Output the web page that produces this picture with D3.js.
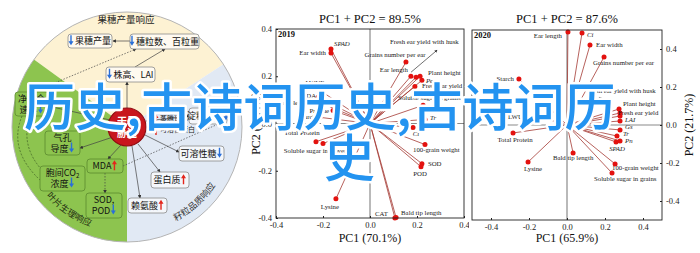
<!DOCTYPE html>
<html>
<head>
<meta charset="utf-8">
<script src="https://cdn.jsdelivr.net/npm/d3@7"></script>
<style>
html, body { margin: 0; padding: 0; background: #fff; }
svg { display: block; }
</style>
</head>
<body>
<svg id="chart" width="700" height="253"></svg>
<script>
// ---------- data ----------
const pcTicks = [-0.4, -0.2, 0.0, 0.2, 0.4];

const vars2019 = ["SPAD", "Ear width", "LWUE", "MDA", "Soluble protein", "Proline", "Starch",
  "Total Protein", "Soluble sugar in stover", "Lysine", "CAT", "Bald tip length", "SOD", "POD",
  "100-grain weight", "Ci", "Tr", "Soluble sugar in grains", "Fresh ear yield", "Pe",
  "Plant height", "Ear length", "Grains number per ear", "Fresh ear yield with husk"];
const pc1_2019 = [-0.166, -0.166, -0.213, -0.221, -0.204, -0.157, -0.213, -0.230, -0.200, -0.145,
  0.106, 0.111, 0.221, 0.217, 0.234, 0.183, 0.234, 0.226, 0.191, 0.221, 0.213, 0.174, 0.153, 0.196];
const pc2_2019 = [0.315, 0.298, 0.140, 0.111, 0.085, 0.055, 0.026, -0.077, -0.085, -0.319,
  -0.400, -0.398, -0.170, -0.183, -0.089, -0.017, 0.017, 0.077, 0.157, 0.183, 0.200, 0.200, 0.260, 0.196];

const vars2020 = ["Ear length", "Ci", "Ear width", "Grains number per ear", "Starch", "LWUE",
  "Total Protein", "Lysine", "Bald tip length", "Soluble sugar in grains", "100-grain weight",
  "SPAD", "Pn", "Tr", "Gs", "LAI", "Fresh ear yield", "Fresh ear yield with husk", "Plant height"];
const pc1_2020 = [0.005, 0.079, 0.121, 0.195, -0.253, -0.142, -0.284, -0.205, 0.032, 0.237, 0.253,
  0.258, 0.279, 0.263, 0.279, 0.279, 0.279, 0.279, 0.274];
const pc2_2020 = [0.489, 0.484, 0.421, 0.358, 0.242, 0.042, -0.042, -0.195, -0.147, -0.253, -0.205,
  -0.089, -0.084, -0.058, -0.026, 0.021, 0.047, 0.063, 0.084];

// drought wheel: traits and their trend
const yieldTraits = ["果穗产量", "穗粒数、百粒重", "株高、LAI"];
const yieldTrend = ["down", "down", "down"];
const leafTraits = ["净光合速率", "气孔导度", "胞间CO2浓度", "MDA", "SOD,POD"];
const leafTrend = ["down", "down", "down", "up", "down"];
const grainTraits = ["可溶性糖", "蛋白质", "赖氨酸", "淀粉含量"];
const grainTrend = ["down", "up", "up", "down"];

const overlayText = ["历史,古诗词历史,古诗词历", "史"];

// ---------- layout ----------
const italicVars = new Set(["SPAD", "Pe", "Tr", "Ci", "Pn", "Gs", "LAI"]);

// label offsets from point: [dx, dy, anchor]
const labelPos2019 = {
  "SPAD": [3, -3, "start"], "Ear width": [-5, 2, "end"], "LWUE": [-5, -5, "middle"],
  "MDA": [-2, 1, "end"], "Soluble protein": [-3, 2, "end"], "Proline": [-4, 2, "end"],
  "Starch": [-4, 2, "end"], "Total Protein": [-14, -7, "middle"],
  "Soluble sugar in stover": [-8, 9, "middle"], "Lysine": [-6, 10, "middle"],
  "CAT": [-7, -2, "end"], "Bald tip length": [5, -3, "start"], "SOD": [6, 2, "start"],
  "POD": [-1, 9, "middle"], "100-grain weight": [-12, 7, "start"], "Ci": [3, 8, "middle"],
  "Tr": [5, 1, "start"], "Soluble sugar in grains": [-25, -5, "start"],
  "Fresh ear yield": [7, 2, "start"], "Pe": [4, 3, "start"], "Plant height": [8, -1, "start"],
  "Ear length": [-3, -4, "end"], "Grains number per ear": [-11, -5, "middle"],
  "Fresh ear yield with husk": [-26, -33, "start"]
};
const labelPos2020 = {
  "Ear length": [-6, 6, "end"], "Ci": [5, 4, "start"], "Ear width": [6, 2, "start"],
  "Grains number per ear": [-11, 8, "start"], "Starch": [-5, 2, "end"], "LWUE": [-13, 2, "end"],
  "Total Protein": [2, 9, "middle"], "Lysine": [5, 9, "middle"], "Bald tip length": [0, 7, "middle"],
  "Soluble sugar in grains": [-18, 8, "start"], "100-grain weight": [-3, 6, "start"],
  "SPAD": [1, 9, "middle"], "Pn": [5, 2, "start"], "Tr": [6, 0, "start"], "Gs": [5, -1, "start"],
  "LAI": [5, 1, "start"], "Fresh ear yield": [-2, -1, "start"],
  "Fresh ear yield with husk": [-33, -20, "start"], "Plant height": [4, -3, "start"]
};
// small black pointer lines next to "Fresh ear yield with husk"
const pointer2019 = [-5, -5, 21, -27];
const pointer2020 = [-14, -9, -21, -16];

const svg = d3.select("#chart");
const defs = svg.append("defs");
defs.append("marker").attr("id", "tip").attr("viewBox", "0 0 6 6")
  .attr("refX", 5).attr("refY", 3).attr("markerWidth", 5).attr("markerHeight", 5)
  .attr("orient", "auto")
  .append("path").attr("d", "M0,0L6,3L0,6z").attr("fill", "#333");

// ---------- left: drought response wheel ----------
const cx = 127, cy = 127, R = 115;
const deg = Math.PI / 180;
const wheel = svg.append("g").attr("class", "wheel");
const arc = d3.arc().innerRadius(0).outerRadius(R);
const sectors = [
  { start: -54, end: 57, fill: "#fdf2d3" },
  { start: 57, end: 180, fill: "#e1e9f4" },
  { start: 180, end: 306, fill: "#8dc44f" }
];
wheel.selectAll("path.sector").data(sectors).join("path")
  .attr("class", "sector")
  .attr("transform", `translate(${cx},${cy})`)
  .attr("d", d => arc({ startAngle: d.start * deg, endAngle: d.end * deg }))
  .attr("fill", d => d.fill);
wheel.append("circle").attr("cx", cx).attr("cy", cy).attr("r", R)
  .attr("fill", "none").attr("stroke", "#b5b5b5").attr("stroke-width", 1);

const cjk = "'Noto Sans CJK SC', 'Noto Sans', sans-serif";

wheel.append("text").attr("x", 126).attr("y", 23).attr("text-anchor", "middle")
  .attr("font-family", cjk).attr("font-size", 9.5).attr("fill", "#222").text("果穗产量响应");

// curved sector titles
function arcPath(r, a0, a1) {
  const p0 = [cx + r * Math.cos(a0 * deg), cy + r * Math.sin(a0 * deg)];
  const p1 = [cx + r * Math.cos(a1 * deg), cy + r * Math.sin(a1 * deg)];
  return `M${p0[0]},${p0[1]} A${r},${r} 0 0 0 ${p1[0]},${p1[1]}`;
}
const curved = [
  { id: "leafArc", d: arcPath(106, 152, 98), text: "叶片生理响应", fill: "#1f2d12" },
  { id: "grainArc", d: arcPath(106, 78, 18), text: "籽粒品质响应", fill: "#333" }
];
curved.forEach(c => {
  defs.append("path").attr("id", c.id).attr("d", c.d);
  wheel.append("text").attr("font-family", cjk).attr("font-size", 9).attr("fill", c.fill)
    .append("textPath").attr("href", "#" + c.id).attr("startOffset", "50%")
    .attr("text-anchor", "middle").text(c.text);
});

// links between boxes
const links = [
  { p: [130, 41, 113, 41], dash: null },
  { p: [135, 67, 165, 49], dash: null },
  { p: [33, 92, 136, 49], dash: "1.5,1.5" },
  { p: [127, 108, 127, 82], dash: null },
  { p: [110, 120, 48, 106], dash: null },
  { p: [113, 137, 80, 148], dash: null },
  { p: [121, 145, 108, 159], dash: null },
  { p: [105, 173, 105, 193], dash: "1.5,1.5" },
  { p: [145, 135, 179, 152], dash: null },
  { p: [138, 144, 160, 172], dash: null },
  { p: [132, 146, 140, 198], dash: null },
  { p: [146, 121, 189, 116], dash: null },
  { p: [123, 166, 232, 118], dash: "1.5,1.5", noTip: true }
];
wheel.selectAll("line.link").data(links).join("line")
  .attr("class", "link")
  .attr("x1", d => d.p[0]).attr("y1", d => d.p[1])
  .attr("x2", d => d.p[2]).attr("y2", d => d.p[3])
  .attr("stroke", "#444").attr("stroke-width", 0.7)
  .attr("stroke-dasharray", d => d.dash)
  .attr("marker-end", d => d.noTip ? null : "url(#tip)");
wheel.selectAll("path.loop").data([
  "M22,116 Q8,150 40,180", "M30,116 Q20,146 42,170"
]).join("path").attr("class", "loop").attr("d", d => d)
  .attr("fill", "none").attr("stroke", "#3b5a22").attr("stroke-width", 0.7)
  .attr("stroke-dasharray", "2,1.5");

// trend arrow (x centre, y top)
function trendArrow(g, x, y, dir) {
  const up = dir === "up";
  const color = up ? "#e3261c" : "#2a6fd8";
  const h = 10, w = 5, head = 4, s = 1.4;
  const d = up
    ? `M${x},${y} L${x + w / 2},${y + head} L${x + s / 2},${y + head} L${x + s / 2},${y + h} L${x - s / 2},${y + h} L${x - s / 2},${y + head} L${x - w / 2},${y + head}Z`
    : `M${x},${y + h} L${x + w / 2},${y + h - head} L${x + s / 2},${y + h - head} L${x + s / 2},${y} L${x - s / 2},${y} L${x - s / 2},${y + h - head} L${x - w / 2},${y + h - head}Z`;
  g.append("path").attr("d", d).attr("fill", color);
}

// box layout: x, y, w, h, split (chars on first line), arrow side
const boxLayout = {
  "果穗产量": { x: 68, y: 34, w: 44, h: 14, side: "left" },
  "穗粒数、百粒重": { x: 130, y: 34, w: 69, h: 15, side: "left" },
  "株高、LAI": { x: 106, y: 67, w: 49, h: 15, side: "left" },
  "净光合速率": { x: 15, y: 92, w: 33, h: 24, split: 3, side: "right" },
  "气孔导度": { x: 45, y: 131, w: 35, h: 24, split: 2, side: "right" },
  "胞间CO2浓度": { x: 40, y: 166, w: 45, h: 25, split: 5, side: "right" },
  "MDA": { x: 87, y: 159, w: 36, h: 14, side: "right" },
  "SOD,POD": { x: 86, y: 193, w: 36, h: 25, split: 4, side: "right" },
  "可溶性糖": { x: 179, y: 146, w: 45, h: 15, side: "right" },
  "蛋白质": { x: 151, y: 172, w: 38, h: 16, side: "right" },
  "赖氨酸": { x: 128, y: 198, w: 39, h: 15, side: "right" },
  "淀粉含量": { x: 189, y: 108, w: 38, h: 16, side: "right" }
};
const boxStyle = {
  yield: { fill: "#fffaf0", stroke: "#8a8a8a" },
  leaf: { fill: "#8dc44f", stroke: "#5c8a2f" },
  grain: { fill: "#f4f7fb", stroke: "#8a8a8a" }
};

function addLine(t, str) {
  // render CO2 with subscript
  const i = str.indexOf("CO2");
  if (i < 0) { t.append("tspan").text(str); return; }
  t.append("tspan").text(str.slice(0, i + 2));
  t.append("tspan").attr("font-size", 6).attr("dy", 2).text("2");
  t.append("tspan").attr("dy", -2).text(str.slice(i + 3));
}

function drawBoxes(traits, trends, style) {
  traits.forEach((name, i) => {
    const b = boxLayout[name];
    const g = wheel.append("g");
    g.append("rect").attr("x", b.x).attr("y", b.y).attr("width", b.w).attr("height", b.h)
      .attr("rx", 3).attr("fill", style.fill).attr("stroke", style.stroke).attr("stroke-width", 0.8);
    const lines = b.split ? [name.slice(0, b.split), name.slice(b.split)] : [name];
    const fs = 9;
    lines.forEach((ln, k) => {
      const last = k === lines.length - 1;
      const baseY = lines.length === 1 ? b.y + b.h / 2 + 3.3 : b.y + 10 + k * 10.5;
      const t = g.append("text").attr("font-family", cjk).attr("font-size", fs).attr("fill", "#111");
      addLine(t, ln);
      const tw = t.node().getComputedTextLength();
      const aw = last ? 6 : 0;
      let tx;
      if (b.side === "left") tx = b.x + (b.w - tw - aw) / 2 + aw;
      else tx = b.x + (b.w - tw - aw) / 2;
      t.attr("x", tx).attr("y", baseY);
      t.selectAll("tspan").filter((d, j) => j === 0).attr("x", tx);
      if (last) {
        const ax = b.side === "left" ? tx - 4 : tx + tw + 3;
        trendArrow(g, ax, baseY - 9, trends[i]);
      }
    });
  });
}
drawBoxes(yieldTraits, yieldTrend, boxStyle.yield);
drawBoxes(leafTraits, leafTrend, boxStyle.leaf);
drawBoxes(grainTraits, grainTrend, boxStyle.grain);

// small trend notes right of the centre
[["蒸腾速率", "up", 121], ["可溶性蛋白", "up", 132]].forEach(([txt, dir, yy]) => {
  const g = wheel.append("g");
  trendArrow(g, 156, yy - 7, dir);
  g.append("text").attr("x", 160).attr("y", yy).attr("font-family", cjk)
    .attr("font-size", 7).attr("fill", "#222").text(txt);
});

// centre: drought stress
wheel.append("circle").attr("cx", cx).attr("cy", cy).attr("r", 19)
  .attr("fill", "#c8161d").attr("stroke", "#8e0d12").attr("stroke-width", 1.2);
["干旱", "胁迫"].forEach((s, k) => {
  wheel.append("text").attr("x", cx).attr("y", cy - 2 + k * 12).attr("text-anchor", "middle")
    .attr("font-family", cjk).attr("font-size", 10).attr("font-weight", "bold")
    .attr("fill", "#fff").text(s);
});

// ---------- PCA biplots ----------
const serif = "'Liberation Serif', 'Times New Roman', serif";
const fmt = d => d.toFixed(1);

function biplot(opt) {
  const { names, pc1, pc2, x, y, labelPos, pointer, year, title, xTitle, yTitle, rightAxis } = opt;
  const g = svg.append("g");
  const [x0, x1] = x.range(), [y0, y1] = y.range();
  if (opt.bg) g.append("rect").attr("x", opt.bg).attr("y", 0).attr("width", 700 - opt.bg)
    .attr("height", 253).attr("fill", "#fff");

  g.append("line").attr("x1", x(0)).attr("x2", x(0)).attr("y1", y1).attr("y2", y0)
    .attr("stroke", "#8a8a8a").attr("stroke-width", 1.2);
  g.append("line").attr("x1", x0).attr("x2", x1).attr("y1", y(0)).attr("y2", y(0))
    .attr("stroke", "#8a8a8a").attr("stroke-width", 1.2);

  const pts = names.map((n, i) => ({ n, px: x(pc1[i]), py: y(pc2[i]) }));
  g.selectAll("line.vec").data(pts).join("line").attr("class", "vec")
    .attr("x1", x(0)).attr("y1", y(0)).attr("x2", d => d.px).attr("y2", d => d.py)
    .attr("stroke", "#a53a33").attr("stroke-width", 0.8);
  g.selectAll("circle.pt").data(pts).join("circle").attr("class", "pt")
    .attr("cx", d => d.px).attr("cy", d => d.py).attr("r", 2.5).attr("fill", "#e3120f");
  g.selectAll("text.lbl").data(pts.filter(d => labelPos[d.n])).join("text").attr("class", "lbl")
    .attr("x", d => d.px + labelPos[d.n][0]).attr("y", d => d.py + labelPos[d.n][1])
    .attr("text-anchor", d => labelPos[d.n][2])
    .attr("font-family", serif).attr("font-size", 6.8).attr("fill", "#222")
    .attr("font-style", d => italicVars.has(d.n) ? "italic" : null)
    .text(d => d.n);

  const husk = pts.find(d => d.n === "Fresh ear yield with husk");
  g.append("line").attr("x1", husk.px + pointer[0]).attr("y1", husk.py + pointer[1])
    .attr("x2", husk.px + pointer[2]).attr("y2", husk.py + pointer[3])
    .attr("stroke", "#111").attr("stroke-width", 0.6).attr("marker-end", "url(#tip)");

  g.append("rect").attr("x", x0).attr("y", y1).attr("width", x1 - x0).attr("height", y0 - y1)
    .attr("fill", "none").attr("stroke", "#222").attr("stroke-width", 0.9);

  const styleAxis = a => {
    a.select(".domain").remove();
    a.selectAll(".tick line").attr("stroke", "#222");
    a.selectAll("text").attr("font-family", serif).attr("font-size", 8.5).attr("fill", "#222");
  };
  g.append("g").attr("transform", `translate(0,${y0})`)
    .call(d3.axisBottom(x).tickValues(pcTicks).tickSize(-2).tickPadding(4).tickFormat(fmt))
    .call(styleAxis);
  if (rightAxis) {
    g.append("g").attr("transform", `translate(${x1},0)`)
      .call(d3.axisRight(y).tickValues(pcTicks).tickSize(-2).tickPadding(4).tickFormat(fmt))
      .call(styleAxis);
  } else {
    g.append("g").attr("transform", `translate(${x0},0)`)
      .call(d3.axisLeft(y).tickValues(pcTicks).tickSize(-2).tickPadding(4).tickFormat(fmt))
      .call(styleAxis);
  }

  const mx = (x0 + x1) / 2, my = (y0 + y1) / 2;
  g.append("text").attr("x", mx).attr("y", 23).attr("text-anchor", "middle")
    .attr("font-family", serif).attr("font-size", 12.5).attr("fill", "#111").text(title);
  g.append("text").attr("x", mx).attr("y", 242).attr("text-anchor", "middle")
    .attr("font-family", serif).attr("font-size", 12).attr("fill", "#111").text(xTitle);
  const ylx = rightAxis ? x1 + 31 : x0 - 16;
  g.append("text").attr("transform", `translate(${ylx},${my}) rotate(-90)`)
    .attr("text-anchor", "middle").attr("font-family", serif).attr("font-size", 12)
    .attr("fill", "#111").text(yTitle);
  g.append("text").attr("x", x0 + 2).attr("y", y1 + 8).attr("font-family", serif)
    .attr("font-size", 8.5).attr("font-weight", "bold").attr("fill", "#111").text(year);
}

biplot({
  names: vars2019, pc1: pc1_2019, pc2: pc2_2019,
  x: d3.scaleLinear().domain([-0.4, 0.4]).range([276, 464]),
  y: d3.scaleLinear().domain([-0.4, 0.4]).range([218, 29]),
  labelPos: labelPos2019, pointer: pointer2019, year: "2019",
  title: "PC1 + PC2 = 89.5%", xTitle: "PC1 (70.1%)", yTitle: "PC2 (19.4%)", rightAxis: false
});
biplot({
  names: vars2020, pc1: pc1_2020, pc2: pc2_2020,
  x: d3.scaleLinear().domain([-0.5, 0.5]).range([472, 662]),
  y: d3.scaleLinear().domain([-0.5, 0.5]).range([220, 30]),
  labelPos: labelPos2020, pointer: pointer2020, year: "2020",
  title: "PC1 + PC2 = 87.6%", xTitle: "PC1 (65.9%)", yTitle: "PC2 (21.7%)", rightAxis: true,
  bg: 469
});

// ---------- overlay caption ----------
const cap = svg.append("text").attr("font-family", cjk).attr("font-size", 51)
  .attr("font-weight", 500).attr("fill", "#2393f0")
  .attr("stroke", "#fff").attr("stroke-width", 5).attr("stroke-linejoin", "round")
  .attr("paint-order", "stroke");
cap.append("tspan").attr("x", 24).attr("y", 126).text(overlayText[0]);
cap.append("tspan").attr("x", 324).attr("y", 177).text(overlayText[1]);
</script>
</body>
</html>
